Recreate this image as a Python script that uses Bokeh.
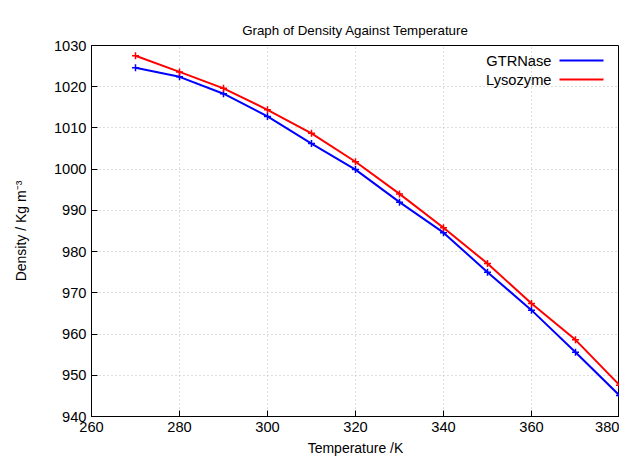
from bokeh.plotting import figure
from bokeh.models import Label, BoxAnnotation, SingleIntervalTicker, Range1d
from bokeh.embed import file_html
from bokeh.resources import INLINE

temperature = [270, 280, 290, 300, 310, 320, 330, 340, 350, 360, 370, 380]
gtrnase = [1024.6, 1022.4, 1018.3, 1012.8, 1006.2, 999.9, 992.0, 984.6, 975.0, 965.8, 955.6, 945.1]
lysozyme = [1027.5, 1023.6, 1019.6, 1014.4, 1008.7, 1001.8, 994.0, 985.8, 977.1, 967.4, 958.6, 947.6]

FONT = "Liberation Sans"

p = figure(width=619, height=458, output_backend="svg", toolbar_location=None,
           x_range=Range1d(260, 380), y_range=Range1d(940, 1030),
           title="Graph of Density Against Temperature",
           x_axis_label="Temperature /K", y_axis_label="Density / Kg m\u207b\u00b3",
           min_border_left=91, min_border_right=0, min_border_top=45, min_border_bottom=32)
p.title.align = "center"
p.title.text_font = FONT
p.title.text_font_size = "10pt"
p.title.text_font_style = "normal"
p.title.text_color = "black"
p.title.standoff = 16
p.outline_line_color = "black"
p.outline_line_alpha = 1
p.background_fill_color = "white"

p.xaxis.ticker = SingleIntervalTicker(interval=20)
p.yaxis.ticker = SingleIntervalTicker(interval=10)
for ax in (p.xaxis[0], p.yaxis[0]):
    ax.major_tick_in = 6
    ax.major_tick_out = 0
    ax.minor_tick_in = 0
    ax.minor_tick_out = 0
    ax.axis_line_color = "black"
    ax.major_label_text_font = FONT
    ax.major_label_text_font_size = "11pt"
    ax.major_label_text_color = "black"
    ax.axis_label_text_font = FONT
    ax.axis_label_text_font_size = "10.5pt"
    ax.axis_label_text_font_style = "normal"
    ax.axis_label_text_color = "black"
p.yaxis.axis_label_standoff = 22
p.grid.grid_line_color = "#bbbbbb"
p.grid.grid_line_dash = "1 3"

p.line(temperature, gtrnase, line_color="blue", line_width=2)
p.scatter(temperature, gtrnase, marker="cross", size=7, line_color="blue", line_width=1.5)
p.line(temperature, lysozyme, line_color="red", line_width=2)
p.scatter(temperature, lysozyme, marker="cross", size=7, line_color="red", line_width=1.5)

# gnuplot-style key: label then sample line (screen units are frame-relative)
for i, (name, col) in enumerate([("GTRNase", "blue"), ("Lysozyme", "red")]):
    yy = 356 - i * 19
    p.add_layout(Label(x=460, y=yy, x_units="screen", y_units="screen", text=name,
                       text_align="right", text_baseline="middle", text_font=FONT,
                       text_font_size="11pt", text_color="black"))
    p.add_layout(BoxAnnotation(left=468, right=512, bottom=yy - 1, top=yy + 1,
                               left_units="screen", right_units="screen",
                               bottom_units="screen", top_units="screen",
                               fill_color=col, fill_alpha=1, line_alpha=0))

open("out.html", "w").write(file_html(p, INLINE))
